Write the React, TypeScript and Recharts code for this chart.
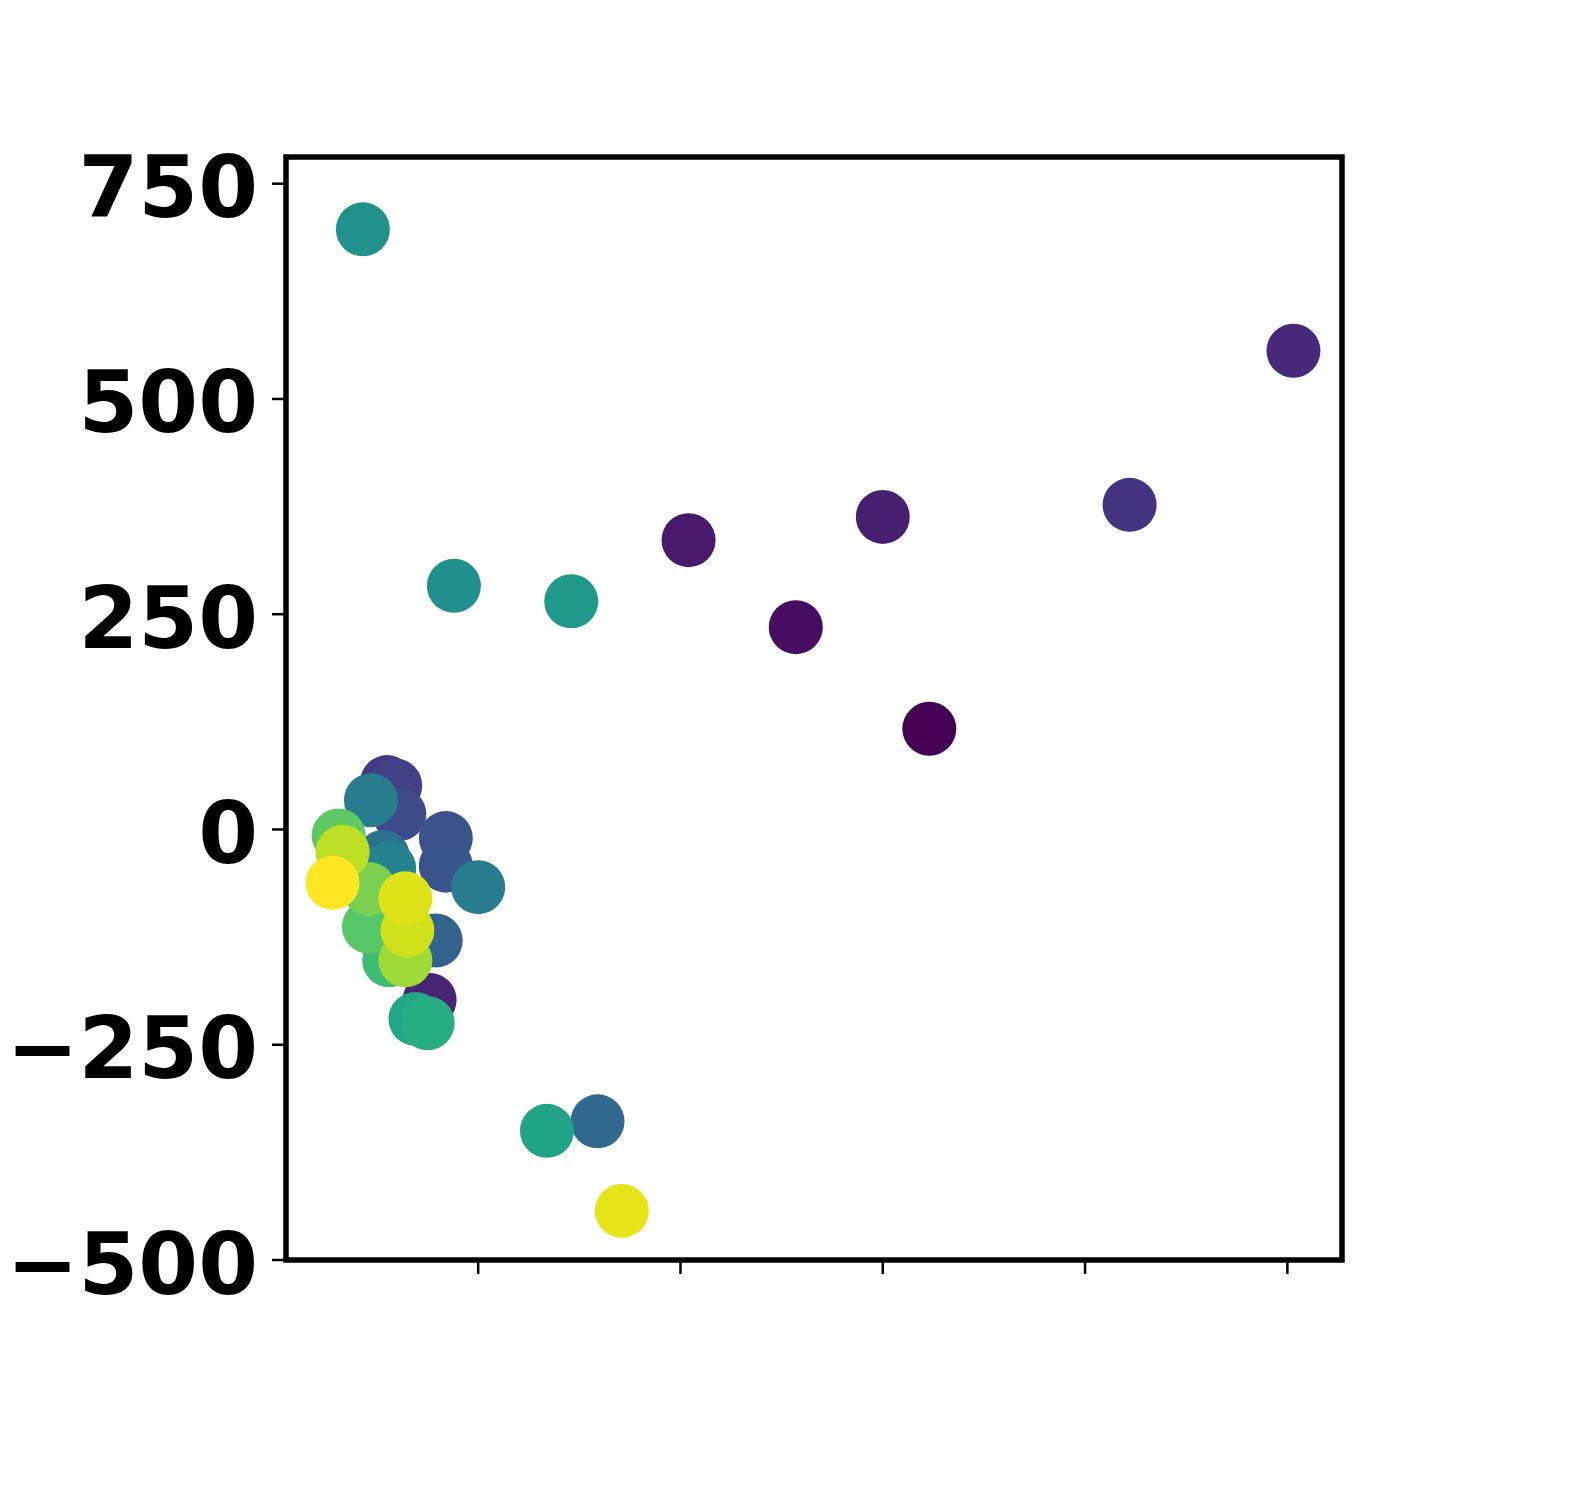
import {
  ReferenceArea,
  Scatter,
  ScatterChart,
  XAxis,
  YAxis,
  Cell,
} from "recharts";

// points ordered so the brighter ones sit on top (as in the source plot)
const xValues = [
  323, 257, 204, 300, 422, 76, 503, 55, 59, 61, 84, 84, 79, 159, 53, 47, 100,
  56, 88, 43, 146, 134, 69, 75, 56, 46, 31, 46, 64, 33, 65, 64, 171, 28,
];
const yValues = [
  117, 235, 336, 363, 377, -198, 556, 55, 51, 18, -10, -42, -129, -339, -32,
  34, -67, -45, 283, 697, 265, -350, -220, -225, -152, -113, -7, -69, -152,
  -26, -117, -80, -443, -62,
];
const pointColors = [
  "#440154", "#470d60", "#48186a", "#481f70", "#46337f", "#482475",
  "#482878", "#443a83", "#424086", "#3e4a89", "#3b528b", "#3a548c",
  "#33638d", "#31688e", "#2c728e", "#297b8e", "#287c8e", "#26828e",
  "#21908d", "#21918c", "#1f998a", "#20a386", "#22a785", "#27ad81",
  "#3fbc73", "#56c667", "#5ec962", "#7ad151", "#a0da39", "#bddf26",
  "#d0e11c", "#dde318", "#e7e419", "#fde725",
];
const yTicks = [-500, -250, 0, 250, 500, 750];
const xTicks = [100, 200, 300, 400, 500];

const points = xValues.map((x, i) => ({ x, y: yValues[i] }));

const font = "'DejaVu Sans', sans-serif";

export default function App() {
  return (
    <div style={{ position: "absolute", left: 0, top: 0, background: "#fff" }}>
      <ScatterChart
        width={1579}
        height={1498}
        margin={{ top: 157, right: 237, bottom: 178, left: 0 }}
      >
        <XAxis
          type="number"
          dataKey="x"
          domain={[5, 527]}
          ticks={xTicks}
          tickFormatter={() => ""}
          height={60}
          axisLine={false}
          tickSize={14}
          tickLine={{ stroke: "#000", strokeWidth: 2.5 }}
        />
        <YAxis
          type="number"
          dataKey="y"
          domain={[-500, 781]}
          ticks={yTicks}
          width={286}
          axisLine={false}
          tickSize={14}
          tickMargin={14}
          tickLine={{ stroke: "#000", strokeWidth: 2.5 }}
          tickFormatter={(v: number) => String(v).replace("-", "\u2212")}
          tick={{ fill: "#000", fontSize: 86, fontWeight: "bold", fontFamily: font, dy: 3 }}
        />
        <Scatter
          data={points}
          isAnimationActive={false}
          shape={(p: any) => <circle cx={p.cx} cy={p.cy} r={27} fill={p.fill} />}
        >
          {points.map((_, i) => (
            <Cell key={`pt-${i}`} fill={pointColors[i]} />
          ))}
        </Scatter>
        <ReferenceArea
          x1={5}
          x2={527}
          y1={-500}
          y2={781}
          fill="none"
          fillOpacity={0}
          stroke="#000"
          strokeWidth={5.5}
          ifOverflow="visible"
        />
      </ScatterChart>
    </div>
  );
}
